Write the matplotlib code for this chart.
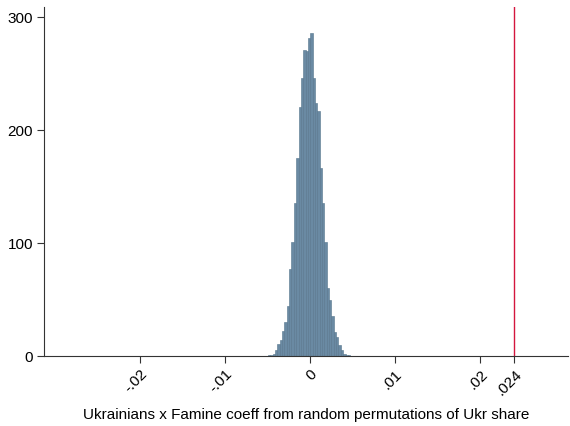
import numpy as np
import matplotlib
matplotlib.use("Agg")
import matplotlib.pyplot as plt

plt.rcParams['font.family'] = ['Liberation Sans', 'DejaVu Sans']

# histogram of permutation coefficients (frequency per bin)
bin_start = -0.00493
bin_width = 0.000276
counts = [1, 1, 2, 5, 11, 14, 22, 30, 44, 77, 101, 135, 175, 220, 246, 271, 270, 281, 286,
          246, 224, 217, 166, 135, 101, 60, 50, 35, 21, 17, 10, 5, 2, 1, 1]

actual_coef = 0.024

xticks = [-0.02, -0.01, 0, 0.01, 0.02, 0.024]
xticklabels = ['-.02', '-.01', '0', '.01', '.02', '.024']
yticks = [0, 100, 200, 300]

edges = bin_start + bin_width * np.arange(len(counts))

fig = plt.figure(figsize=(5.7, 4.26), dpi=100)
ax = fig.add_axes([0.0772, 0.1643, 0.9193, 0.8186])

ax.bar(edges, counts, width=bin_width, align='edge',
       color='#6a8aa3', edgecolor='#56758c', linewidth=0.4)

ax.axvline(actual_coef, color='#d4163e', linewidth=1.0)

ax.set_xlim(-0.03123, 0.0303)
ax.set_ylim(0, 308.6)

ax.set_xticks(xticks)
ax.set_xticklabels(xticklabels, rotation=45, ha='right', va='top',
                   rotation_mode='anchor', fontsize=11)
ax.set_yticks(yticks)
ax.set_yticklabels([str(v) for v in yticks], fontsize=11)

ax.tick_params(axis='both', length=5, width=0.8, color='#333333', pad=3)

for s in ['top', 'right']:
    ax.spines[s].set_visible(False)
for s in ['left', 'bottom']:
    ax.spines[s].set_color('#333333')
    ax.spines[s].set_linewidth(0.8)

ax.set_xlabel('Ukrainians x Famine coeff from random permutations of Ukr share',
              fontsize=11, labelpad=7)

fig.savefig('out.png', dpi=100)
